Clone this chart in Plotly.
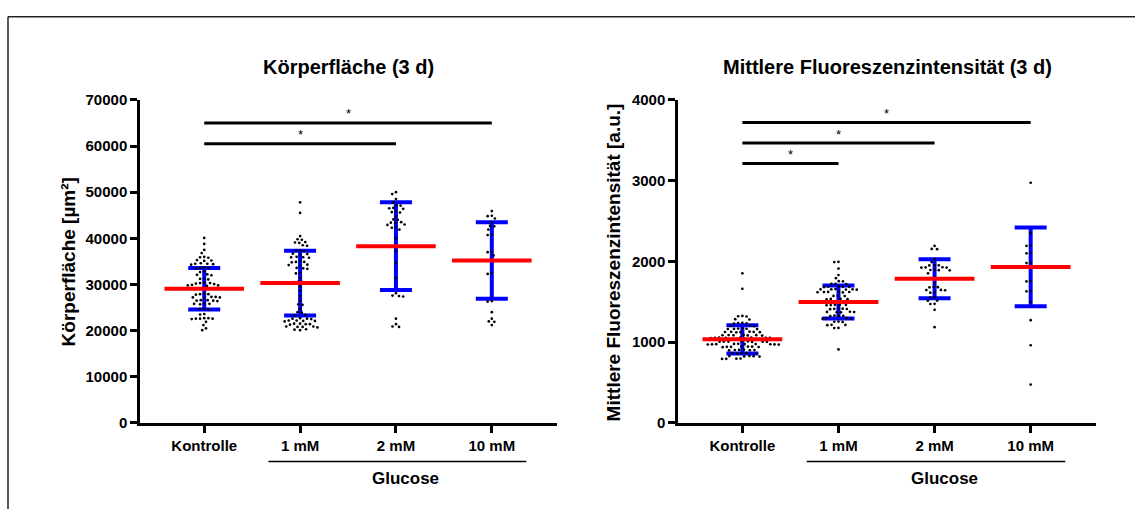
import numpy as np
import plotly.graph_objects as go

# ---------------- data ----------------
categories = ["Kontrolle", "1 mM", "2 mM", "10 mM"]

area_ctrl = [40100, 38800, 37500, 36800, 35900, 35800, 36000, 35200, 35100, 35300,
             34500, 34400, 34600, 34500, 34300, 33700, 33600, 33500, 33600, 32800,
             32700, 32100, 32000, 32200, 31200, 31300, 31100, 30300, 30400, 30200,
             30300, 30100, 29800, 29900, 29700, 29800, 29100, 29000, 29200, 29100,
             27900, 28000, 27800, 27900, 27200, 27300, 27100, 27200, 27300, 26500,
             26600, 26400, 26500, 26600, 25800, 25900, 25700, 25800, 24700, 24600,
             24800, 23500, 23600, 22600, 22700, 22500, 22600, 22700, 22600, 21900,
             21200, 20500, 20100]
area_1mM = [47800, 45500, 40500, 39800, 39700, 39100, 39000, 39200, 38400, 38500,
            37300, 37400, 37200, 36600, 36700, 36500, 35900, 36000, 35800, 35900,
            34900, 35000, 34800, 34900, 34200, 34300, 34100, 33500, 33600, 33400,
            32400, 32500, 31400, 30500, 30400, 30600, 30500, 29600, 28600, 27500,
            26500, 25600, 25700, 24700, 23900, 24000, 23300, 23400, 22600, 22700,
            22500, 22600, 22100, 22200, 22000, 22100, 22200, 21400, 21500, 21300,
            21400, 21500, 20800, 20900, 20700, 20800, 20900, 20200, 20300, 20100]
area_2mM = [50000, 49600, 48500, 47800, 47100, 47200, 46500, 46600, 46400, 45700,
            45800, 45600, 44800, 44000, 44100, 43400, 43500, 43300, 42900, 43000,
            42300, 42400, 41900, 40000, 37300, 34700, 31400, 28100, 27500, 27600,
            27400, 22600, 21400, 20900, 20800]
area_10mM = [45900, 44800, 44900, 44300, 43500, 42600, 42700, 41900, 40700, 40800,
             37000, 37100, 36300, 32300, 32400, 26300, 26400, 24000, 22600, 21900,
             22000, 21200]
area_mean = [29100, 30300, 38300, 35200]
area_sd = [4500, 7000, 9500, 8300]

fl_ctrl = [1853, 1661, 1321, 1325, 1318, 1281, 1285, 1234, 1238, 1230, 1236, 1201,
           1205, 1198, 1165, 1168, 1162, 1166, 1170, 1163, 1126, 1128, 1124, 1130,
           1122, 1127, 1125, 1086, 1088, 1084, 1090, 1082, 1087, 1085, 1054, 1056,
           1052, 1058, 1050, 1055, 1053, 1057, 1038, 1040, 1036, 1042, 1034, 1039,
           1006, 1008, 1004, 1010, 1002, 1007, 1005, 1009, 974, 976, 972, 978, 970,
           975, 973, 977, 971, 979, 942, 944, 940, 946, 938, 943, 945, 902, 904, 900,
           906, 898, 903, 862, 864, 860, 866, 858, 826, 828, 824, 830, 822, 794, 796,
           792, 798]
fl_1mM = [1992, 1995, 1912, 1832, 1792, 1752, 1755, 1721, 1723, 1719, 1685, 1688,
          1682, 1690, 1686, 1653, 1655, 1651, 1657, 1650, 1654, 1620, 1622, 1618,
          1624, 1616, 1621, 1573, 1575, 1571, 1533, 1535, 1531, 1537, 1501, 1503,
          1499, 1505, 1497, 1502, 1461, 1463, 1459, 1465, 1457, 1413, 1415, 1411,
          1417, 1409, 1373, 1375, 1371, 1377, 1369, 1325, 1327, 1323, 1329, 1293,
          1295, 1291, 1297, 1253, 1255, 1251, 1213, 1215, 1211, 1174, 1176, 910]
fl_2mM = [2192, 2152, 2155, 2028, 1992, 1952, 1955, 1950, 1924, 1926, 1922, 1928,
          1892, 1894, 1890, 1896, 1852, 1792, 1795, 1790, 1733, 1681, 1684, 1679,
          1645, 1647, 1643, 1613, 1615, 1553, 1555, 1513, 1515, 1473, 1475, 1401, 1186]
fl_10mM = [2974, 2351, 2192, 2195, 2104, 2100, 1985, 1980, 1935, 1752, 1755, 1633,
           1630, 1500, 1273, 962, 475]
fl_mean = [1035, 1497, 1785, 1932]
fl_sd = [176, 204, 242, 488]

area_sig_pairs = [(0, 3), (0, 2)]
area_sig_y = [65000, 60500]
fl_sig_pairs = [(0, 3), (0, 2), (0, 1)]
fl_sig_y = [3720, 3465, 3213]

# ---------------- layout geometry ----------------
W, H = 1135, 517


def py(y_pix):
    """paper y for a pixel row"""
    return (H - y_pix) / H


XR = [-0.67, 3.68]
LEFT_DOM = [140 / W, 557 / W]
RIGHT_DOM = [678 / W, 1096 / W]
Y_DOM = [py(428), py(94)]
PLOT_H = 334.0
PX_PER_CAT = 96.0
FONT = "Liberation Sans, Arial, sans-serif"


def swarm(vals, ymax, d=4.2):
    """Deterministic beeswarm offsets (category units) for values."""
    vals = np.asarray(vals, float)
    ypx = vals / ymax * PLOT_H
    order = np.argsort(-vals)
    placed = []
    offs = np.zeros(len(vals))
    for i in order:
        y = ypx[i]
        forb = []
        for (px, pyy) in placed:
            dy = abs(pyy - y)
            if dy < d:
                w = np.sqrt(d * d - dy * dy)
                forb.append((px - w, px + w))
        cands = [0.0] + [a for a, b in forb] + [b for a, b in forb]
        cands.sort(key=lambda c: (abs(c), c))
        best = 0.0
        for c in cands:
            if all(not (a + 1e-6 < c < b - 1e-6) for a, b in forb):
                best = c
                break
        placed.append((best, y))
        offs[i] = best / PX_PER_CAT
    return offs


fig = go.Figure()


def add_panel(groups, means, sds, ymax, xa, ya, pairs, sig_y):
    # error bars (SD)
    fig.add_trace(go.Scatter(
        x=list(range(len(categories))), y=means, mode="markers",
        marker=dict(size=1, color="rgba(0,0,0,0)"),
        error_y=dict(type="data", array=sds, visible=True, color="#0000ff",
                     thickness=4, width=16),
        xaxis=xa, yaxis=ya, showlegend=False, hoverinfo="skip"))
    # points
    xs, ys = [], []
    for i, g in enumerate(groups):
        off = swarm(g, ymax)
        xs += list(i + off)
        ys += list(g)
    fig.add_trace(go.Scatter(
        x=xs, y=ys, mode="markers",
        marker=dict(size=2.7, color="black"),
        xaxis=xa, yaxis=ya, showlegend=False))
    # mean lines
    mx, my = [], []
    for i, m in enumerate(means):
        mx += [i - 0.415, i + 0.415, None]
        my += [m, m, None]
    fig.add_trace(go.Scatter(
        x=mx, y=my, mode="lines", line=dict(color="#ff0000", width=4),
        xaxis=xa, yaxis=ya, showlegend=False, hoverinfo="skip"))
    # significance bars
    bx, by = [], []
    for (a, b), yy in zip(pairs, sig_y):
        bx += [a, b, None]
        by += [yy, yy, None]
        fig.add_annotation(x=(a + b) / 2, y=yy, xref=xa, yref=ya, text="*",
                           showarrow=False, yshift=9,
                           font=dict(family=FONT, size=13, color="black"))
    fig.add_trace(go.Scatter(
        x=bx, y=by, mode="lines", line=dict(color="black", width=3),
        xaxis=xa, yaxis=ya, showlegend=False, hoverinfo="skip"))


add_panel([area_ctrl, area_1mM, area_2mM, area_10mM], area_mean, area_sd,
          70000, "x", "y", area_sig_pairs, area_sig_y)
add_panel([fl_ctrl, fl_1mM, fl_2mM, fl_10mM], fl_mean, fl_sd,
          4000, "x2", "y2", fl_sig_pairs, fl_sig_y)

axis_common = dict(showline=True, linecolor="black", linewidth=2.5,
                   ticks="outside", ticklen=7, tickwidth=2.5, tickcolor="black",
                   showgrid=False, zeroline=False,
                   tickfont=dict(family=FONT, size=15, color="black", weight="bold"))

fig.update_layout(
    width=W, height=H, margin=dict(l=0, r=0, t=0, b=0), autosize=False,
    paper_bgcolor="white", plot_bgcolor="white",
    xaxis=dict(domain=LEFT_DOM, range=XR, anchor="y",
               tickvals=list(range(4)), ticktext=categories, **axis_common),
    yaxis=dict(domain=Y_DOM, range=[0, 70000], anchor="x",
               tickvals=list(range(0, 70001, 10000)), tickformat="d", **axis_common),
    xaxis2=dict(domain=RIGHT_DOM, range=XR, anchor="y2",
                tickvals=list(range(4)), ticktext=categories, **axis_common),
    yaxis2=dict(domain=Y_DOM, range=[0, 4000], anchor="x2",
                tickvals=list(range(0, 4001, 1000)), tickformat="d", **axis_common),
)

title_font = dict(family=FONT, size=20, color="black", weight="bold")
fig.add_annotation(x=sum(LEFT_DOM) / 2, y=py(60), xref="paper", yref="paper",
                   xanchor="center", yanchor="middle",
                   text="Körperfläche (3 d)", showarrow=False, font=title_font)
fig.add_annotation(x=sum(RIGHT_DOM) / 2, y=py(60), xref="paper", yref="paper",
                   xanchor="center", yanchor="middle",
                   text="Mittlere Fluoreszenzintensität (3 d)", showarrow=False,
                   font=title_font)

ytitle_font = dict(family=FONT, size=19, color="black", weight="bold")
fig.add_annotation(x=68 / W, y=py(262), xref="paper", yref="paper",
                   xanchor="center", yanchor="middle",
                   text="Körperfläche [µm²]", textangle=-90, showarrow=False,
                   font=ytitle_font)
fig.add_annotation(x=613 / W, y=py(262), xref="paper", yref="paper",
                   xanchor="center", yanchor="middle",
                   text="Mittlere Fluoreszenzintensität [a.u.]", textangle=-90,
                   showarrow=False, font=ytitle_font)

# Glucose grouping brackets
for xa in ["x", "x2"]:
    fig.add_shape(type="line", xref=xa, yref="paper", x0=0.67, x1=3.36,
                  y0=py(468), y1=py(468),
                  line=dict(color="black", width=1.5))
    fig.add_annotation(x=2.1, y=py(485), xref=xa, yref="paper",
                       xanchor="center", yanchor="middle",
                       text="Glucose", showarrow=False,
                       font=dict(family=FONT, size=17, color="black", weight="bold"))

# outer frame (left and top)
fig.add_shape(type="line", xref="paper", yref="paper", x0=8 / W, x1=8 / W,
              y0=0, y1=py(8), line=dict(color="#222", width=1.5))
fig.add_shape(type="line", xref="paper", yref="paper", x0=8 / W, x1=1,
              y0=py(8), y1=py(8), line=dict(color="#222", width=1.5))

fig.write_html("out.html")
